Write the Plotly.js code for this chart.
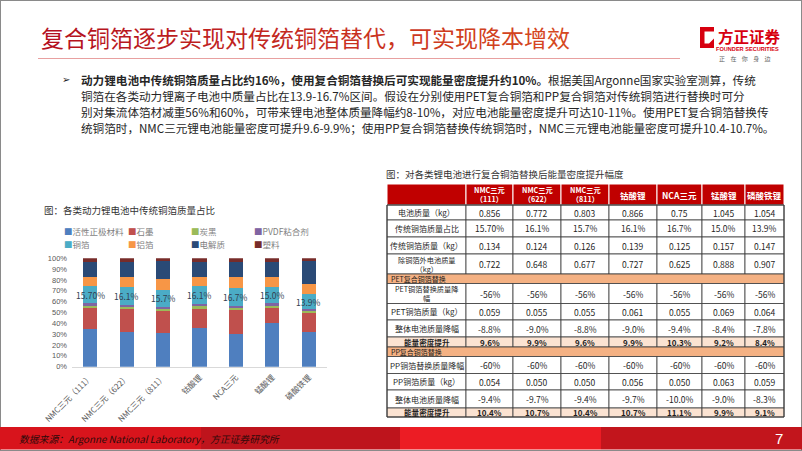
<!DOCTYPE html>
<html><head><meta charset="utf-8">
<script src="https://cdn.plot.ly/plotly-3.0.1.min.js"></script>
<style>html,body{margin:0;padding:0;background:#fff;}#chart{width:802px;height:451px;}</style>
</head><body><div id="chart"></div>
<script>
// ---------- DATA ----------
const categories = ['NMC三元（111）','NMC三元（622）','NMC三元（811）','钴酸锂','NCA三元','锰酸锂','磷酸铁锂'];
const seriesNames = ['活性正极材料','石墨','炭黑','PVDF粘合剂','铜箔','铝箔','电解质','塑料'];
const cathode     = [34.5, 32.3, 31.4, 35.4, 30.5, 40.6, 32.3];
const graphite    = [19.3, 20.7, 20.0, 18.1, 21.8, 13.2, 16.9];
const carbonBlack = [2.2, 2.0, 1.8, 2.2, 1.9, 2.2, 2.2];
const pvdf        = [2.5, 2.2, 2.2, 2.5, 2.1, 2.5, 1.8];
const copper      = [15.7, 16.1, 15.7, 16.1, 16.7, 15.0, 13.9];
const aluminum    = [8.6, 9.2, 9.5, 8.7, 9.5, 9.5, 8.9];
const electrolyte = [14.2, 14.1, 16.9, 14.0, 14.5, 14.0, 21.8];
const plastic     = [3.0, 3.4, 2.5, 3.0, 3.0, 3.0, 2.2];
const copperLabels = ['15.70%','16.1%','15.7%','16.1%','16.7%','15.0%','13.9%'];
const yTicks = [0,10,20,30,40,50,60,70,80,90,100];
const yTickText = ['0%','10%','20%','30%','40%','50%','60%','70%','80%','90%','100%'];

const tableHeaders = ['NMC三元<br>（111）','NMC三元<br>（622）','NMC三元<br>（811）','钴酸锂','NCA三元','锰酸锂','磷酸铁锂'];
const batteryMass   = ['0.856','0.772','0.803','0.866','0.75','1.045','1.054'];
const copperShare   = ['15.70%','16.1%','15.7%','16.1%','16.7%','15.0%','13.9%'];
const copperMass    = ['0.134','0.124','0.126','0.139','0.125','0.157','0.147'];
const otherMass     = ['0.722','0.648','0.677','0.727','0.625','0.888','0.907'];
const petFoilCut    = ['-56%','-56%','-56%','-56%','-56%','-56%','-56%'];
const petFoilMass   = ['0.059','0.055','0.055','0.061','0.055','0.069','0.064'];
const petBatteryCut = ['-8.8%','-9.0%','-8.8%','-9.0%','-9.4%','-8.4%','-7.8%'];
const petGain       = ['9.6%','9.9%','9.6%','9.9%','10.3%','9.2%','8.4%'];
const ppFoilCut     = ['-60%','-60%','-60%','-60%','-60%','-60%','-60%'];
const ppFoilMass    = ['0.054','0.050','0.050','0.056','0.050','0.063','0.059'];
const ppBatteryCut  = ['-9.4%','-9.7%','-9.4%','-9.7%','-10.0%','-9.0%','-8.3%'];
const ppGain        = ['10.4%','10.7%','10.4%','10.7%','11.1%','9.9%','9.1%'];

const pageTitle = '复合铜箔逐步实现对传统铜箔替代，可实现降本增效';
const bulletBold = '动力锂电池中传统铜箔质量占比约16%，使用复合铜箔替换后可实现能量密度提升约10%。';
const bulletLines = [
  '根据美国Argonne国家实验室测算，传统',
  '铜箔在各类动力锂离子电池中质量占比在13.9-16.7%区间。假设在分别使用PET复合铜箔和PP复合铜箔对传统铜箔进行替换时可分',
  '别对集流体箔材减重56%和60%，可带来锂电池整体质量降幅约8-10%，对应电池能量密度提升可达10-11%。使用PET复合铜箔替换传',
  '统铜箔时，NMC三元锂电池能量密度可提升9.6-9.9%；使用PP复合铜箔替换传统铜箔时，NMC三元锂电池能量密度可提升10.4-10.7%。'
];
const chartTitle = '图：各类动力锂电池中传统铜箔质量占比';
const tableTitle = '图：对各类锂电池进行复合铜箔替换后能量密度提升幅度';
const sourceText = '数据来源：Argonne National Laboratory，方正证券研究所';
const pageNumber = '7';

// ---------- STYLE / LAYOUT ----------
const W = 802, H = 451;
const px = x => x / W;
const py = y => 1 - y / H;
const FONT = 'Noto Sans CJK SC, sans-serif';
const colors = ['#4F7FBF','#C0504D','#9BBB59','#8064A2','#4BACC6','#F79646','#2A4A76','#772C2A'];
const seriesData = [cathode, graphite, carbonBlack, pvdf, copper, aluminum, electrolyte, plastic];

const traces = seriesData.map((d, i) => ({
  type: 'bar', x: categories, y: d, name: seriesNames[i],
  marker: {color: colors[i], line: {width: 0}}, hoverinfo: 'skip'
}));

const shapes = [];
const annotations = [];

// outer frame
shapes.push({type:'rect', xref:'paper', yref:'paper', x0:0, x1:1, y0:0, y1:1, line:{color:'#8a8a8a', width:2}, layer:'above'});

// title with gradient-ish colour
const c0 = [180,16,30], c1 = [214,72,32];
let titleHtml = '';
for (let i = 0; i < pageTitle.length; i++) {
  const t = i / (pageTitle.length - 1);
  const c = c0.map((v, k) => Math.round(v + (c1[k] - v) * t));
  titleHtml += `<span style="color:rgb(${c.join(',')})">${pageTitle[i]}</span>`;
}
annotations.push({xref:'paper', yref:'paper', x:px(39), y:py(37), xanchor:'left', yanchor:'middle', showarrow:false,
  text: titleHtml, font:{family:FONT, size:23, color:'#C00000'}});
shapes.push({type:'line', xref:'paper', yref:'paper', x0:px(38), x1:px(680), y0:py(58.5), y1:py(58.5), line:{color:'#E8A0A0', width:1.2}});

// logo
shapes.push({type:'path', xref:'paper', yref:'paper', fillcolor:'#D7000F', line:{width:0},
  path: `M${px(700)},${py(27)} L${px(714)},${py(27)} L${px(714)},${py(31.5)} L${px(704.5)},${py(31.5)} L${px(704.5)},${py(43.5)} L${px(709)},${py(43.5)} L${px(714)},${py(38.5)} L${px(714)},${py(48)} L${px(700)},${py(48)} Z`});
annotations.push({xref:'paper', yref:'paper', x:px(716), y:py(36), xanchor:'left', yanchor:'middle', showarrow:false,
  text:'<b>方正证券</b>', font:{family:FONT, size:15.5, color:'#D7000F'}});
annotations.push({xref:'paper', yref:'paper', x:px(747.5), y:py(48.5), xanchor:'center', yanchor:'middle', showarrow:false,
  text:'<b>FOUNDER SECURITIES</b>', font:{family:'Liberation Sans, sans-serif', size:5.6, color:'#D7000F'}});
annotations.push({xref:'paper', yref:'paper', x:px(745), y:py(58), xanchor:'center', yanchor:'middle', showarrow:false,
  text:'正&nbsp;&nbsp;&nbsp;&nbsp;在&nbsp;&nbsp;&nbsp;&nbsp;你&nbsp;&nbsp;&nbsp;&nbsp;身&nbsp;&nbsp;&nbsp;&nbsp;边', font:{family:FONT, size:6, color:'#666666'}});

// bullet paragraph
annotations.push({xref:'paper', yref:'paper', x:px(60), y:py(79.5), xanchor:'left', yanchor:'middle', showarrow:false,
  text:'➢', font:{family:'DejaVu Sans, sans-serif', size:10, color:'#222'}});
const lineY = [79.5, 96, 112, 127.5];
bulletLines.forEach((ln, i) => {
  annotations.push({xref:'paper', yref:'paper', x:px(79), y:py(lineY[i]), xanchor:'left', yanchor:'middle', showarrow:false,
    text: (i === 0 ? '<b>' + bulletBold + '</b>' : '') + ln, font:{family:FONT, size:11.6, color:'#262626'}});
});

// chart title
annotations.push({xref:'paper', yref:'paper', x:px(42), y:py(210), xanchor:'left', yanchor:'middle', showarrow:false,
  text: chartTitle, font:{family:FONT, size:9.5, color:'#333333'}});

// manual legend
const legX = [62, 126, 189, 252], legY = [230.5, 243.5];
seriesNames.forEach((n, i) => {
  annotations.push({xref:'paper', yref:'paper', x:px(legX[i % 4]), y:py(legY[Math.floor(i / 4)]), xanchor:'left', yanchor:'middle', showarrow:false,
    text:`<span style="color:${colors[i]}">■</span>${n}`, font:{family:FONT, size:8.5, color:'#7F7F7F'}});
});

// copper labels inside bars
categories.forEach((c, i) => {
  const base = cathode[i] + graphite[i] + carbonBlack[i] + pvdf[i];
  annotations.push({x:c, y: base + copper[i] / 2, xref:'x', yref:'y', showarrow:false, yanchor:'middle',
    text: copperLabels[i], font:{family:FONT, size:8.5, color:'#333F50'}});
});

// table
annotations.push({xref:'paper', yref:'paper', x:px(384), y:py(174), xanchor:'left', yanchor:'middle', showarrow:false,
  text: tableTitle, font:{family:FONT, size:9.5, color:'#333333'}});
const tableRows = [
  ['header', '', tableHeaders],
  ['row', '电池质量（kg）', batteryMass],
  ['row', '传统铜箔质量占比', copperShare],
  ['row', '传统铜箔质量（kg）', copperMass],
  ['row', '除铜箔外电池质量<br>（kg）', otherMass],
  ['band', 'PET复合铜箔替换', null],
  ['row', 'PET铜箔替换质量降<br>幅', petFoilCut],
  ['row', 'PET铜箔质量（kg）', petFoilMass],
  ['row', '整体电池质量降幅', petBatteryCut],
  ['gain', '能量密度提升', petGain],
  ['band', 'PP复合铜箔替换', null],
  ['row', 'PP铜箔替换质量降幅', ppFoilCut],
  ['row', 'PP铜箔质量（kg）', ppFoilMass],
  ['row', '整体电池质量降幅', ppBatteryCut],
  ['gain', '能量密度提升', ppGain]
];
const rowEdges = [184, 205, 220, 237, 254, 274, 283.5, 303.5, 320, 337, 347, 356.5, 373.5, 390, 408, 417];
const colEdges = [387, 466, 513, 561, 609, 657, 702, 745, 784];
const gridColor = '#3a3a3a';
tableRows.forEach((r, ri) => {
  const [kind, label, vals] = r;
  const y0 = rowEdges[ri], y1 = rowEdges[ri + 1], ym = (y0 + y1) / 2;
  if (kind === 'band') {
    shapes.push({type:'rect', xref:'paper', yref:'paper', x0:px(colEdges[0]), x1:px(colEdges[8]), y0:py(y1), y1:py(y0),
      fillcolor:'#F4B183', line:{color:gridColor, width:0.8}});
    annotations.push({xref:'paper', yref:'paper', x:px(colEdges[0] + 1.5), y:py(ym), xanchor:'left', yanchor:'middle', showarrow:false,
      text: label, font:{family:FONT, size:7, color:'#1a1a1a'}});
    return;
  }
  for (let c = 0; c < 8; c++) {
    const x0 = colEdges[c], x1 = colEdges[c + 1];
    const fill = kind === 'header' ? '#C00000' : (kind === 'gain' ? '#FBE3D2' : '#FFFFFF');
    shapes.push({type:'rect', xref:'paper', yref:'paper', x0:px(x0), x1:px(x1), y0:py(y1), y1:py(y0),
      fillcolor: fill, line:{color: kind === 'header' ? '#FFFFFF' : gridColor, width: kind === 'header' ? 1 : 0.8}});
    const txt = c === 0 ? label : vals[c - 1];
    if (!txt) continue;
    const bold = kind === 'header' || kind === 'gain';
    const twoLine = txt.indexOf('<br>') >= 0;
    let size = c === 0 ? 8 : 8.5;
    if (twoLine) size = 7.2;
    if (kind === 'gain') size = c === 0 ? 7.6 : 8;
    annotations.push({xref:'paper', yref:'paper', x:px((x0 + x1) / 2), y:py(ym), xanchor:'center', yanchor:'middle', showarrow:false,
      text: bold ? '<b>' + txt + '</b>' : txt,
      font:{family:FONT, size: size, color: kind === 'header' ? '#FFFFFF' : '#1f1f1f'}});
  }
});
shapes.push({type:'rect', xref:'paper', yref:'paper', x0:px(colEdges[0]), x1:px(colEdges[8]), y0:py(rowEdges[15]), y1:py(rowEdges[1]),
  line:{color:gridColor, width:1}, fillcolor:'rgba(0,0,0,0)'});

// footer
const footSeg = [[0, 201, '#D8141C'], [201, 400, '#BE141C'], [400, 601, '#EC1C24'], [601, 802, '#C2151C']];
footSeg.forEach(s => shapes.push({type:'rect', xref:'paper', yref:'paper', x0:px(s[0]), x1:px(s[1]), y0:py(449.5), y1:py(427), fillcolor:s[2], line:{width:0}}));
annotations.push({xref:'paper', yref:'paper', x:px(17), y:py(438.5), xanchor:'left', yanchor:'middle', showarrow:false,
  text:'<i>' + sourceText + '</i>', font:{family:FONT, size:9.8, color:'#2E0A0A'}});
annotations.push({xref:'paper', yref:'paper', x:px(779), y:py(438), xanchor:'center', yanchor:'middle', showarrow:false,
  text: pageNumber, font:{family:'Liberation Sans, sans-serif', size:15, color:'#FFFFFF'}});

const layout = {
  width: W, height: H, margin:{l:0, r:0, t:0, b:0},
  paper_bgcolor:'#FFFFFF', plot_bgcolor:'rgba(0,0,0,0)',
  barmode:'stack', bargap:0.615, showlegend:false,
  font:{family:FONT},
  xaxis:{domain:[px(72), px(327)], tickangle:-45, tickfont:{family:FONT, size:8, color:'#595959'},
    showline:true, linecolor:'#D9D9D9', linewidth:1, ticks:'', fixedrange:true, ticklabelstandoff:2},
  yaxis:{domain:[py(366.7), py(258.3)], range:[0, 100], tickmode:'array', tickvals:yTicks, ticktext:yTickText, showgrid:false, zeroline:false,
    showline:false, tickfont:{family:'Liberation Sans, sans-serif', size:7.5, color:'#595959'}, ticklabelstandoff:4, fixedrange:true},
  shapes, annotations
};
Plotly.newPlot('chart', traces, layout, {staticPlot:true, displayModeBar:false});
</script></body></html>
